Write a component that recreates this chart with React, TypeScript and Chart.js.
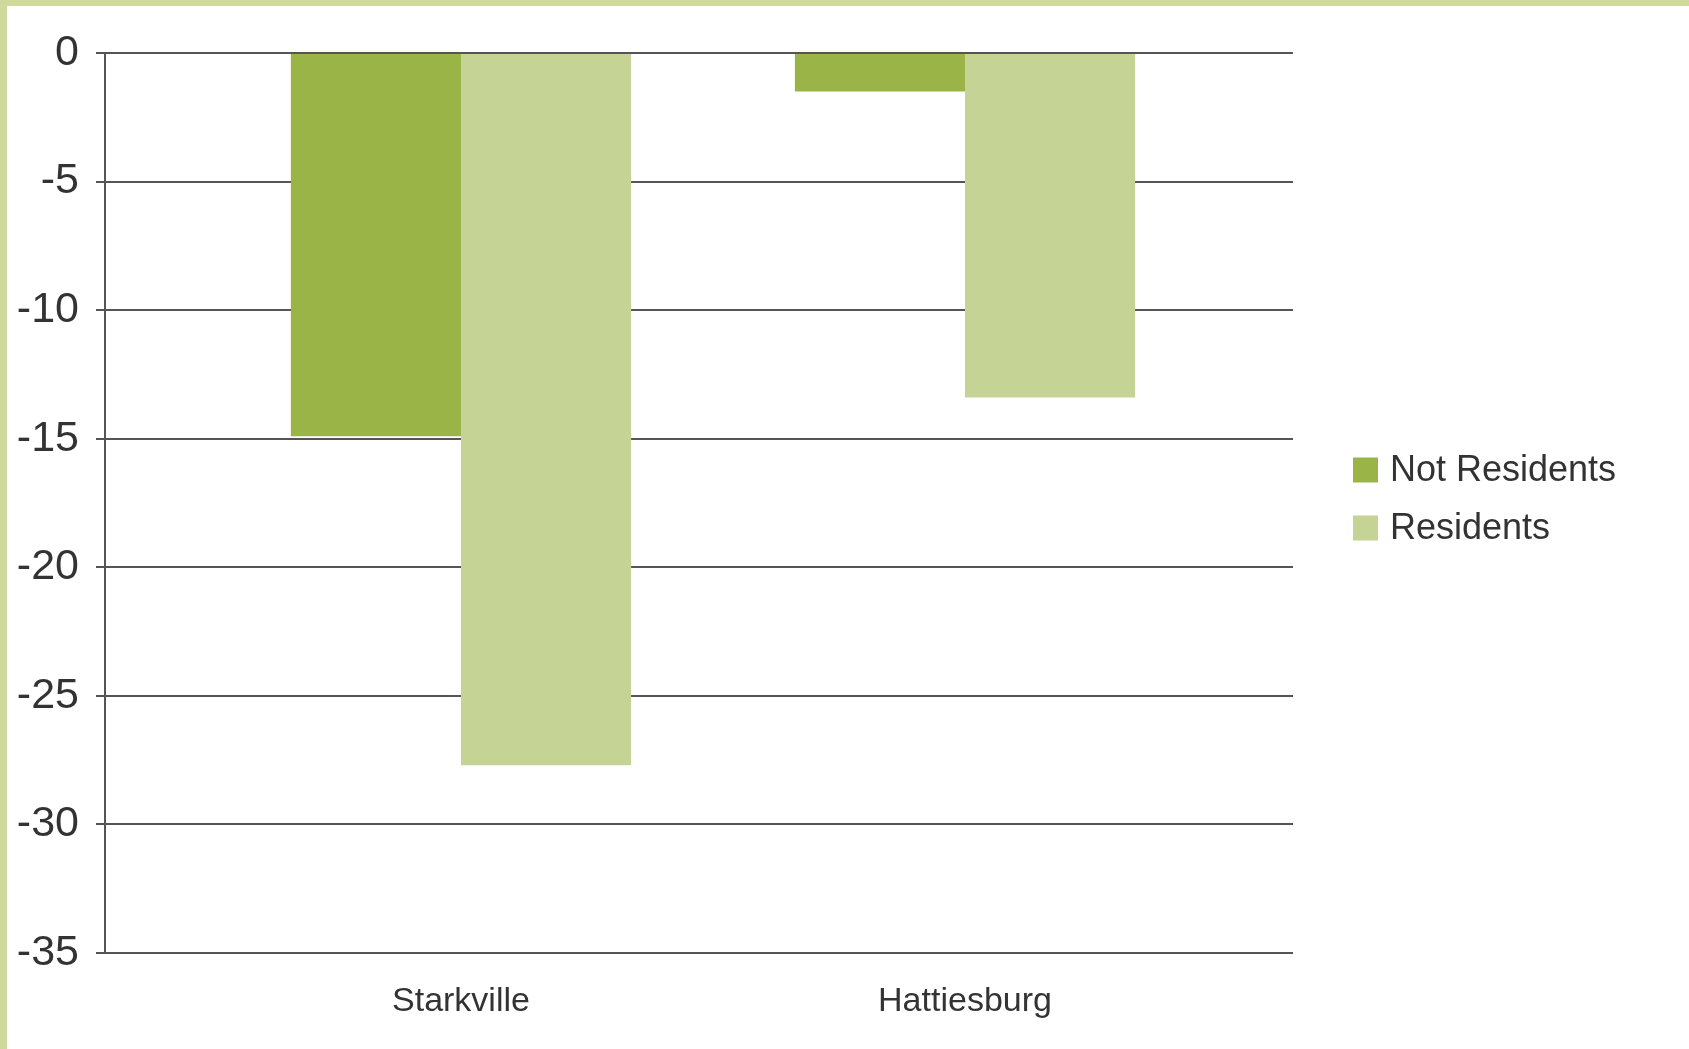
import React, { useEffect, useRef } from "react";
import { Chart, registerables } from "chart.js";

Chart.register(...registerables);

const categories = ["Starkville", "Hattiesburg"];
const seriesNames = ["Not Residents", "Residents"];
const notResidents = [-14.9, -1.5];
const residents = [-27.7, -13.4];
const yTicks = [0, -5, -10, -15, -20, -25, -30, -35];

const colors = ["#9ab447", "#c5d394"];
const borderColor = "#cfd99b";
const FONT = "'Liberation Sans', Arial, Helvetica, sans-serif";

const legendPlugin = {
  id: "customLegend",
  afterDraw(chart: any) {
    const ctx = chart.ctx;
    ctx.save();
    const ds = chart.data.datasets;
    const boxX = 1353;
    const size = 25;
    const startY = 470;
    const gap = 58;
    ctx.font = `36px ${FONT}`;
    ctx.textBaseline = "middle";
    ctx.textAlign = "left";
    ds.forEach((d: any, i: number) => {
      const cy = startY + i * gap;
      ctx.fillStyle = d.backgroundColor;
      ctx.fillRect(boxX, cy - size / 2, size, size);
      ctx.fillStyle = "#333333";
      ctx.fillText(d.label, boxX + 37, cy + 1);
    });
    ctx.restore();
  },
};

export default function App() {
  const ref = useRef<HTMLCanvasElement | null>(null);

  useEffect(() => {
    if (!ref.current) return;
    const chart = new Chart(ref.current, {
      type: "bar",
      data: {
        datasets: [
          {
            label: seriesNames[0],
            data: notResidents.map((v, i) => ({ x: i, y: v })),
            backgroundColor: colors[0],
            borderWidth: 0,
          },
          {
            label: seriesNames[1],
            data: residents.map((v, i) => ({ x: i, y: v })),
            backgroundColor: colors[1],
            borderWidth: 0,
          },
        ],
      },
      options: {
        animation: false,
        responsive: false,
        maintainAspectRatio: false,
        events: [],
        layout: { padding: { left: 0, right: 396, top: 53, bottom: 0 } },
        datasets: {
          bar: { categoryPercentage: 0.675, barPercentage: 1 },
        },
        plugins: {
          legend: { display: false },
          tooltip: { enabled: false },
          title: { display: false },
        },
        scales: {
          x: {
            type: "linear",
            min: -0.7063,
            max: 1.6508,
            offset: false,
            grid: { display: false, drawTicks: false, offset: false },
            border: { display: false },
            afterBuildTicks: (axis: any) => {
              axis.ticks = categories.map((_, i) => ({ value: i }));
            },
            afterFit: (axis: any) => {
              axis.height = 96;
            },
            ticks: {
              autoSkip: false,
              maxRotation: 0,
              padding: 28,
              color: "#333333",
              font: { family: FONT, size: 34 },
              callback: (v: any) => categories[v] ?? "",
            },
          },
          y: {
            type: "linear",
            min: -35,
            max: 0,
            afterBuildTicks: (axis: any) => {
              axis.ticks = yTicks.map((v) => ({ value: v }));
            },
            afterFit: (axis: any) => {
              axis.width = 105;
            },
            grid: {
              color: "#555555",
              lineWidth: 2,
              drawTicks: true,
              tickLength: 9,
              tickColor: "#555555",
            },
            border: { display: true, color: "#555555", width: 2 },
            ticks: {
              autoSkip: false,
              padding: 17,
              color: "#333333",
              font: { family: FONT, size: 43 },
            },
          },
        },
      },
      plugins: [legendPlugin],
    } as any);
    return () => chart.destroy();
  }, []);

  return (
    <div
      style={{
        position: "fixed",
        left: 0,
        top: 0,
        width: 1689,
        height: 1049,
        background: "#ffffff",
        overflow: "hidden",
      }}
    >
      <canvas
        ref={ref}
        width={1689}
        height={1049}
        style={{ position: "absolute", left: 0, top: 0, width: 1689, height: 1049 }}
      />
      <div
        style={{
          position: "absolute",
          left: 0,
          top: 0,
          width: 1689,
          height: 6,
          background: borderColor,
        }}
      />
      <div
        style={{
          position: "absolute",
          left: 0,
          top: 0,
          width: 7,
          height: 1049,
          background: borderColor,
        }}
      />
    </div>
  );
}
